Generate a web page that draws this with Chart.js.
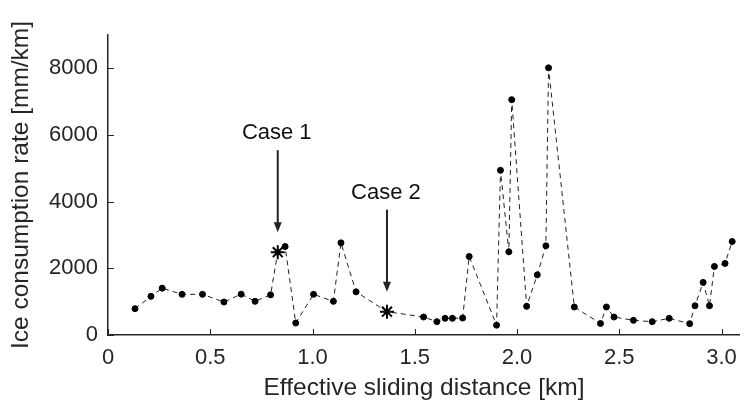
<!DOCTYPE html>
<html>
<head>
<meta charset="utf-8">
<script src="https://cdn.jsdelivr.net/npm/chart.js@4.4.1/dist/chart.umd.min.js"></script>
<style>
html,body{margin:0;padding:0;background:#fff;}
#wrap{width:747px;height:408px;position:relative;}
</style>
</head>
<body>
<div id="wrap"><canvas id="c" width="747" height="408"></canvas></div>
<script>
// ---- data ----
const distanceKm = [0.132,0.21,0.265,0.362,0.462,0.567,0.651,0.719,0.795,0.830,0.866,0.918,1.005,1.102,1.139,1.213,1.364,1.543,1.608,1.648,1.684,1.734,1.766,1.900,1.919,1.960,1.974,2.047,2.099,2.141,2.154,2.280,2.408,2.437,2.474,2.569,2.661,2.744,2.844,2.870,2.910,2.941,2.965,3.017,3.052];
const consumption = [790,1160,1405,1220,1220,990,1225,1010,1205,2485,2655,360,1220,1010,2765,1295,700,540,400,500,500,510,2355,295,4940,2495,7060,860,1805,2675,8015,840,345,840,540,440,400,500,340,877,1578,877,2057,2147,2805];
const caseIndices = [9, 16];
const caseLabels = ['Case 1', 'Case 2'];
const xTickValues = [0, 0.5, 1.0, 1.5, 2.0, 2.5, 3.0];
const xTickLabels = ['0', '0.5', '1.0', '1.5', '2.0', '2.5', '3.0'];
const yTickValues = [0, 2000, 4000, 6000, 8000];
const yTickLabels = ['0', '2000', '4000', '6000', '8000'];

const FONT = '"Liberation Sans", Arial, Helvetica, sans-serif';
const TXT = '#262626';

const points = distanceKm.map((x, i) => ({x: x, y: consumption[i]}));
const pStyle = points.map((p, i) => caseIndices.includes(i) ? 'star' : 'circle');
const pRadius = points.map((p, i) => caseIndices.includes(i) ? 7 : 3);
const pBorderW = points.map((p, i) => caseIndices.includes(i) ? 2 : 1);

const inwardTicks = {
  id: 'inwardTicks',
  afterDraw(chart) {
    const ctx = chart.ctx, xs = chart.scales.x, ys = chart.scales.y, a = chart.chartArea;
    ctx.save();
    ctx.strokeStyle = TXT; ctx.lineWidth = 1;
    ctx.beginPath();
    xTickValues.forEach(v => { const px = Math.round(xs.getPixelForValue(v)) + 0.5; ctx.moveTo(px, a.bottom); ctx.lineTo(px, a.bottom - 6); });
    yTickValues.forEach(v => { const py = Math.round(ys.getPixelForValue(v)) + 0.5; ctx.moveTo(a.left, py); ctx.lineTo(a.left + 6, py); });
    ctx.stroke();
    ctx.restore();
  }
};

const caseArrows = {
  id: 'caseArrows',
  afterDatasetsDraw(chart) {
    const ctx = chart.ctx, xs = chart.scales.x, ys = chart.scales.y;
    ctx.save();
    ctx.strokeStyle = '#222'; ctx.fillStyle = '#222'; ctx.lineWidth = 2;
    caseIndices.forEach((idx, k) => {
      const px = xs.getPixelForValue(distanceKm[idx]);
      const py = ys.getPixelForValue(consumption[idx]);
      const tip = py - 20, top = tip - 82;
      ctx.beginPath(); ctx.moveTo(px, top); ctx.lineTo(px, tip - 6); ctx.stroke();
      ctx.beginPath(); ctx.moveTo(px, tip); ctx.lineTo(px - 4, tip - 10); ctx.lineTo(px + 4, tip - 10); ctx.closePath(); ctx.fill();
      ctx.font = '22px ' + FONT;
      ctx.fillStyle = '#111';
      ctx.textAlign = 'center'; ctx.textBaseline = 'middle';
      ctx.fillText(caseLabels[k], px - 1, top - 17);
      ctx.fillStyle = '#222';
    });
    ctx.restore();
  }
};

new Chart(document.getElementById('c'), {
  type: 'line',
  data: {
    datasets: [{
      data: points,
      borderColor: '#222',
      borderWidth: 1,
      borderDash: [5, 4],
      backgroundColor: '#000',
      pointBackgroundColor: '#000',
      pointBorderColor: '#000',
      pointStyle: pStyle,
      pointRadius: pRadius,
      pointBorderWidth: pBorderW,
      tension: 0,
      fill: false
    }]
  },
  options: {
    responsive: false,
    animation: false,
    devicePixelRatio: 1,
    layout: {padding: {top: 35, right: 2, left: 0, bottom: 0}},
    plugins: {legend: {display: false}, tooltip: {enabled: false}},
    scales: {
      x: {
        type: 'linear', min: 0, max: 3.09,
        afterBuildTicks: s => { s.ticks = xTickValues.map(v => ({value: v})); },
        afterFit: s => { s.height = 73; },
        grid: {display: false, drawTicks: false},
        border: {display: true, color: TXT, width: 1.5},
        ticks: {
          color: TXT, font: {family: FONT, size: 22}, padding: 10, maxRotation: 0,
          callback: (v) => { const i = xTickValues.indexOf(v); return i >= 0 ? xTickLabels[i] : ''; }
        },
        title: {display: true, text: 'Effective sliding distance [km]', color: TXT, font: {family: FONT, size: 24.5}, padding: {top: 0, bottom: 5}}
      },
      y: {
        type: 'linear', min: 0, max: 9000,
        afterBuildTicks: s => { s.ticks = yTickValues.map(v => ({value: v})); },
        afterFit: s => { s.width = 108; },
        grid: {display: false, drawTicks: false},
        border: {display: true, color: TXT, width: 1.5},
        ticks: {
          color: TXT, font: {family: FONT, size: 22}, padding: 10,
          callback: (v) => { const i = yTickValues.indexOf(v); return i >= 0 ? yTickLabels[i] : ''; }
        },
        title: {display: true, text: 'Ice consumption rate [mm/km]', color: TXT, font: {family: FONT, size: 24.5}, padding: {top: 7, bottom: 0}}
      }
    }
  },
  plugins: [inwardTicks, caseArrows]
});
</script>
</body>
</html>
